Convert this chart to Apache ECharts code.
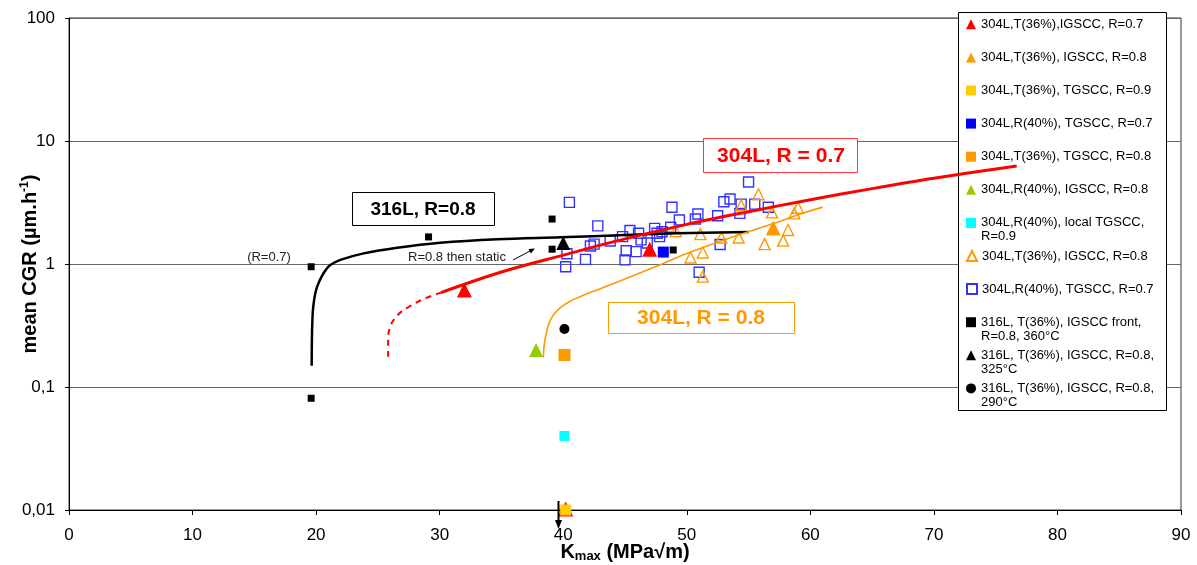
<!DOCTYPE html>
<html><head><meta charset="utf-8">
<script src="https://cdn.jsdelivr.net/npm/echarts@6/dist/echarts.min.js"></script>
<style>html,body{margin:0;padding:0;background:#fff}#c{width:1197px;height:565px}</style>
</head><body><div id="c"></div>
<script>
// ---- data ----
const xMin = 0, xMax = 90, xStep = 10;
const yTickLabels = ['0,01', '0,1', '1', '10', '100'];

const legendLabels = [
  '304L,T(36%),IGSCC, R=0.7',
  '304L,T(36%), IGSCC, R=0.8',
  '304L,T(36%), TGSCC, R=0.9',
  '304L,R(40%), TGSCC, R=0.7',
  '304L,T(36%), TGSCC, R=0.8',
  '304L,R(40%), IGSCC, R=0.8',
  '304L,R(40%), local TGSCC,\nR=0.9',
  '304L,T(36%), IGSCC, R=0.8',
  '304L,R(40%), TGSCC, R=0.7',
  '316L, T(36%), IGSCC front,\nR=0.8, 360°C',
  '316L, T(36%), IGSCC, R=0.8,\n325°C',
  '316L, T(36%), IGSCC, R=0.8,\n290°C'
];

const redTri = [[32.0, 0.615], [47.0, 1.32], [40.2, 0.0102]];
const orangeTri = [[57.0, 1.96]];
const yellowSq = [[40.2, 0.01]];
const blueSq = [[48.1, 1.25]];
const orangeSq = [[40.1, 0.182]];
const greenTri = [[37.8, 0.20]];
const cyanSq = [[40.1, 0.040]];
const openTri = [[55.8, 3.69], [54.4, 3.0], [56.9, 2.63], [59.0, 2.87], [58.7, 2.58], [51.1, 1.75],
  [52.8, 1.64], [54.2, 1.64], [58.2, 1.89], [57.8, 1.55], [56.3, 1.45], [51.3, 1.24], [50.3, 1.13],
  [51.3, 0.79], [49.1, 1.85]];
const openSq = [[40.5, 3.17], [42.8, 2.04], [42.2, 1.40], [42.5, 1.45], [40.3, 1.21], [41.8, 1.09],
  [40.2, 0.95], [43.8, 1.54], [44.8, 1.67], [45.4, 1.87], [46.1, 1.78], [46.3, 1.57], [45.1, 1.28],
  [45.9, 1.26], [45.0, 1.08], [47.4, 1.95], [47.8, 1.67], [47.6, 1.78], [48.0, 1.83], [48.7, 1.99],
  [48.8, 2.89], [46.8, 1.48], [49.4, 2.28], [50.9, 2.55], [50.7, 2.32], [52.5, 2.47], [53.0, 3.21],
  [53.5, 3.38], [54.4, 3.07], [54.3, 2.58], [55.5, 3.07], [55.0, 4.64], [56.6, 2.89], [52.7, 1.44],
  [51.0, 0.856]];
const blackSq360 = [[19.6, 0.95], [19.6, 0.081], [29.1, 1.66], [39.1, 2.32], [39.1, 1.32], [48.9, 1.30]];
const blackTri325 = [[40.0, 1.48]];
const blackCirc290 = [[40.1, 0.296]];

const curve316 = [[19.64, 0.149], [19.66, 0.25], [19.7, 0.35], [19.74, 0.42], [19.85, 0.52], [20.0, 0.615],
  [20.2, 0.70], [20.48, 0.80], [20.8, 0.90], [21.15, 0.98], [21.96, 1.08], [23.85, 1.22], [26.56, 1.357],
  [30.06, 1.49], [34.66, 1.59], [39.8, 1.65], [45.0, 1.72], [49.1, 1.78], [55.0, 1.82]];
const curve304R07 = [[30.1, 0.585], [35.0, 0.86], [40.0, 1.18], [45.0, 1.60], [50.0, 2.10], [55.0, 2.66],
  [60.0, 3.33], [65.0, 4.1], [70.0, 4.98], [76.7, 6.26]];
const curve304R07dash = [[25.83, 0.176], [25.83, 0.256], [26.0, 0.31], [26.28, 0.351], [26.9, 0.41],
  [27.63, 0.456], [28.8, 0.525], [30.1, 0.585]];
const curve304R08 = [[38.39, 0.174], [38.45, 0.215], [38.57, 0.256], [38.85, 0.33], [39.25, 0.39],
  [39.8, 0.445], [40.6, 0.50], [41.7, 0.56], [43.0, 0.63], [45.5, 0.79], [47.9, 0.99], [50.3, 1.25],
  [54.0, 1.70], [57.0, 2.13], [59.2, 2.55], [61.0, 2.9]];

// ---- chart ----
const FONT = 'Liberation Sans, Arial, sans-serif';
const chart = echarts.init(document.getElementById('c'), null, {renderer: 'canvas'});

function scatter(id, data, symbol, size, fill, stroke, bw, z) {
  return {
    id: id, name: id, type: 'scatter', data: data, symbol: symbol, symbolSize: size, z: z || 4,
    itemStyle: {color: fill, borderColor: stroke || fill, borderWidth: bw || 0, opacity: 1},
    emphasis: {disabled: true}
  };
}
function line(name, data, color, width, type, z) {
  return {
    name: name, type: 'line', data: data, symbol: 'none', smooth: 0.35, z: z || 3,
    lineStyle: {color: color, width: width, type: type || 'solid'}, emphasis: {disabled: true}
  };
}

const series = [
  scatter('s9', openSq, 'rect', 10, 'rgba(0,0,0,0)', '#3333ff', 1.4, 2),
  scatter('s8', openTri, 'triangle', 11, 'rgba(0,0,0,0)', '#ff9900', 1.4, 2),
  line('l316', curve316, '#000000', 2.5, 'solid', 3),
  line('l304a', curve304R07, '#ff0000', 3, 'solid', 3),
  line('l304b', curve304R07dash, '#ff0000', 2, [6, 5], 3),
  line('l304c', curve304R08, '#ff9900', 1.6, 'solid', 3),
  scatter('s1', redTri, 'triangle', 15, '#ff0000'),
  scatter('s2', orangeTri, 'triangle', 15, '#ff9900'),
  scatter('s3', yellowSq, 'rect', 11, '#ffcc00'),
  scatter('s4', blueSq, 'rect', 11, '#0000ff'),
  scatter('s5', orangeSq, 'rect', 12, '#ff9900'),
  scatter('s6', greenTri, 'triangle', 14, '#99cc00'),
  scatter('s7', cyanSq, 'rect', 10, '#00ffff'),
  scatter('s10', blackSq360, 'rect', 7, '#000000'),
  scatter('s11', blackTri325, 'triangle', 14, '#000000'),
  scatter('s12', blackCirc290, 'circle', 10, '#000000')
];

const legends = [];
const legendSecondLines = [];
legendLabels.forEach(function (lab, i) {
  const parts = lab.split('\n');
  const center = 24.3 + i * 33.1;
  legends.push({
    data: ['s' + (i + 1)], left: 966, top: center - 7,
    orient: 'vertical', padding: 0, itemWidth: 10, itemHeight: 10, itemGap: 0, selectedMode: false,
    formatter: function () { return parts[0]; },
    textStyle: {fontSize: 13, fontFamily: FONT, color: '#000', lineHeight: 14}
  });
  if (parts[1]) {
    legendSecondLines.push({type: 'text', z: 30, style: {text: parts[1], x: 981, y: center + 14,
      align: 'left', verticalAlign: 'middle', font: '13px ' + FONT, fill: '#000'}});
  }
});

const option = {
  animation: false,
  backgroundColor: '#ffffff',
  textStyle: {fontFamily: FONT},
  grid: {left: 69, right: 16, top: 18, bottom: 55, show: true, borderColor: '#333', borderWidth: 1,
    backgroundColor: 'transparent', containLabel: false, outerBoundsMode: 'none'},
  xAxis: {
    type: 'value', min: xMin, max: xMax, interval: xStep,
    axisLine: {onZero: false, lineStyle: {color: '#000', width: 1}},
    axisTick: {show: true, length: 5, lineStyle: {color: '#000'}},
    splitLine: {show: false},
    axisLabel: {fontSize: 17, color: '#000', margin: 17, fontFamily: FONT},
    name: '{b|K}{s|max}{b| (MPa√m)}', nameLocation: 'middle', nameGap: 31, nameMoveOverlap: false,
    nameTextStyle: {rich: {
      b: {fontSize: 20, fontWeight: 'bold', color: '#000', fontFamily: FONT, lineHeight: 22},
      s: {fontSize: 13, fontWeight: 'bold', color: '#000', fontFamily: FONT, lineHeight: 12, verticalAlign: 'bottom'}
    }}
  },
  yAxis: {
    type: 'log', logBase: 10, min: 0.01, max: 100,
    axisLine: {onZero: false, lineStyle: {color: '#000', width: 1}},
    axisTick: {show: true, length: 4, lineStyle: {color: '#000'}},
    minorTick: {show: false},
    splitLine: {show: true, lineStyle: {color: '#666', width: 1}},
    axisLabel: {fontSize: 17, color: '#000', margin: 14, fontFamily: FONT,
      formatter: function (v) { return yTickLabels[Math.round(Math.log10(v)) + 2]; }},
    name: '{b|mean CGR (µm.h}{s|-1}{b|)}', nameLocation: 'middle', nameGap: 28, nameRotate: 90,
    nameMoveOverlap: false,
    nameTextStyle: {rich: {
      b: {fontSize: 20, fontWeight: 'bold', color: '#000', fontFamily: FONT, lineHeight: 22},
      s: {fontSize: 12, fontWeight: 'bold', color: '#000', fontFamily: FONT, lineHeight: 14, verticalAlign: 'top'}
    }}
  },
  legend: legends,
  series: series,
  graphic: [
    {type: 'rect', z: 1, shape: {x: 958.5, y: 12.5, width: 208, height: 398}, style: {fill: '#fff', stroke: '#000', lineWidth: 1}},
    {type: 'rect', z: 20, shape: {x: 352.5, y: 192.5, width: 142, height: 33}, style: {fill: '#fff', stroke: '#000', lineWidth: 1}},
    {type: 'text', z: 21, style: {text: '316L, R=0.8', x: 423, y: 209.5, align: 'center', verticalAlign: 'middle', font: 'bold 19px ' + FONT, fill: '#000'}},
    {type: 'rect', z: 20, shape: {x: 703.5, y: 138.5, width: 154, height: 34}, style: {fill: '#fff', stroke: '#ff3333', lineWidth: 1}},
    {type: 'text', z: 21, style: {text: '304L, R = 0.7', x: 781, y: 156, align: 'center', verticalAlign: 'middle', font: 'bold 21px ' + FONT, fill: '#ff0000'}},
    {type: 'rect', z: 20, shape: {x: 608.5, y: 302.5, width: 186, height: 31}, style: {fill: '#fff', stroke: '#ff9900', lineWidth: 1}},
    {type: 'text', z: 21, style: {text: '304L, R = 0.8', x: 701, y: 318.5, align: 'center', verticalAlign: 'middle', font: 'bold 21px ' + FONT, fill: '#ff9900'}},
    {type: 'text', z: 21, style: {text: '(R=0.7)', x: 269, y: 257.5, align: 'center', verticalAlign: 'middle', font: '13px ' + FONT, fill: '#222'}},
    {type: 'text', z: 21, style: {text: 'R=0.8 then static', x: 408, y: 257.5, align: 'left', verticalAlign: 'middle', font: '13px ' + FONT, fill: '#222'}},
    {type: 'line', z: 21, shape: {x1: 513, y1: 260, x2: 531, y2: 250.5}, style: {stroke: '#000', lineWidth: 1}},
    {type: 'polygon', z: 21, shape: {points: [[535, 248.5], [530.9, 253.5], [528.5, 249.1]]}, style: {fill: '#000'}},
    {type: 'line', z: 21, shape: {x1: 558.5, y1: 501, x2: 558.5, y2: 521}, style: {stroke: '#000', lineWidth: 2}},
    {type: 'polygon', z: 21, shape: {points: [[558.5, 529], [555, 520], [562, 520]]}, style: {fill: '#000'}}
  ].concat(legendSecondLines)
};
chart.setOption(option);
</script>
</body></html>
